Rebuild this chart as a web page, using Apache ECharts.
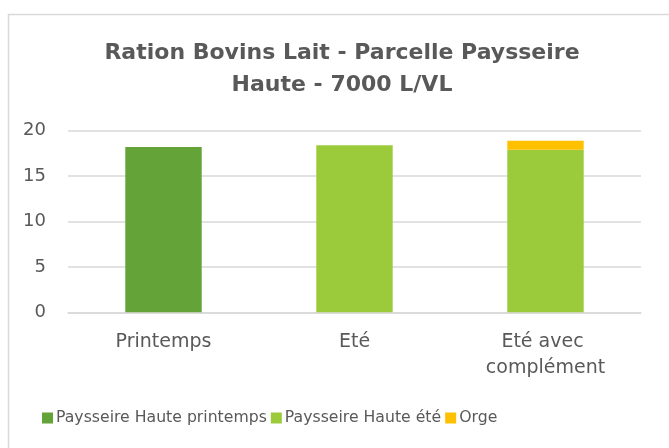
<!DOCTYPE html>
<html>
<head>
<meta charset="utf-8">
<script src="https://cdn.jsdelivr.net/npm/echarts@6/dist/echarts.min.js"></script>
<style>html,body{margin:0;padding:0;background:#fff;}#c{width:669px;height:448px;}</style>
</head>
<body>
<div id="c"></div>
<script>
const categories = ["Printemps", "Eté", "Eté avec complément"];
const seriesNames = ["Paysseire Haute printemps", "Paysseire Haute été", "Orge"];
const printempsValues = [18.2, null, null];
const eteValues = [null, 18.4, 17.9];
const orgeValues = [null, null, 1.0];
const yTicks = [0, 5, 10, 15, 20];

const chart = echarts.init(document.getElementById('c'));
const font = '"DejaVu Sans", sans-serif';
const txt = '#595959';
chart.setOption({
  animation: false,
  textStyle: { fontFamily: font },
  graphic: [{
    type: 'rect', left: 6, top: 12, shape: { width: 700, height: 480 },
    style: { fill: 'none', stroke: '#d9d9d9', lineWidth: 1.5 }, silent: true, z: -1
  }],
  title: {
    text: 'Ration Bovins Lait - Parcelle Paysseire\nHaute - 7000 L/VL',
    left: 337, textAlign: 'center', top: 32,
    textStyle: { fontFamily: font, fontSize: 22, fontWeight: 'bold', color: txt, lineHeight: 32 }
  },
  legend: {
    bottom: 17, left: 37, itemWidth: 11, itemHeight: 11, itemGap: 4,
    icon: 'rect',
    textStyle: { fontFamily: font, fontSize: 15.7, color: txt, padding: [0, 0, 0, -2] },
    data: seriesNames
  },
  grid: { left: 68, right: 28, top: 130.7, bottom: 135.7 },
  xAxis: {
    type: 'category', data: categories,
    axisLine: { lineStyle: { color: '#d9d9d9', width: 1.5 } },
    axisTick: { show: false },
    axisLabel: { fontFamily: font, fontSize: 19, color: txt, margin: 17, lineHeight: 26, width: 150, overflow: 'break', interval: 0 }
  },
  yAxis: {
    type: 'value', min: yTicks[0], max: yTicks[yTicks.length - 1], interval: 5,
    axisLine: { show: false }, axisTick: { show: false },
    splitLine: { lineStyle: { color: '#d9d9d9', width: 1.5 } },
    axisLabel: { fontFamily: font, fontSize: 18, color: txt, margin: 22 }
  },
  series: [
    { name: seriesNames[0], type: 'bar', stack: 's', data: printempsValues, barWidth: '40%', itemStyle: { color: '#63A337' } },
    { name: seriesNames[1], type: 'bar', stack: 's', data: eteValues, barWidth: '40%', itemStyle: { color: '#9BCB3B' } },
    { name: seriesNames[2], type: 'bar', stack: 's', data: orgeValues, barWidth: '40%', itemStyle: { color: '#FFC000' } }
  ]
});
</script>
</body>
</html>
